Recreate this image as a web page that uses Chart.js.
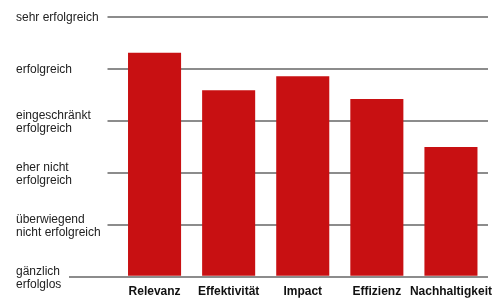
<!DOCTYPE html>
<html>
<head>
<meta charset="utf-8">
<script src="https://cdn.jsdelivr.net/npm/chart.js@4/dist/chart.umd.min.js"></script>
<style>
  html, body { margin: 0; padding: 0; background: #fff; }
  #wrap { width: 502px; height: 298px; }
</style>
</head>
<body>
<div id="wrap"><canvas id="chart" width="502" height="298"></canvas></div>
<script>
// Rating chart data
const categories = ['Relevanz', 'Effektivität', 'Impact', 'Effizienz', 'Nachhaltigkeit'];
const ratings = [4.31, 3.59, 3.86, 3.42, 2.5];
const ratingLabels = [
  ['gänzlich', 'erfolglos'],
  ['überwiegend', 'nicht erfolgreich'],
  ['eher nicht', 'erfolgreich'],
  ['eingeschränkt', 'erfolgreich'],
  'erfolgreich',
  'sehr erfolgreich'
];

const gridColor = '#8c8c8c';

// extend the zero line to the left, under the bottom label
const baseLine = {
  id: 'baseLine',
  beforeDatasetsDraw(chart) {
    const y = chart.scales.y;
    const ctx = chart.ctx;
    const py = Math.round(y.getPixelForValue(0));
    ctx.save();
    ctx.strokeStyle = gridColor;
    ctx.lineWidth = 2;
    ctx.beginPath();
    ctx.moveTo(y.left + 53, py);
    ctx.lineTo(chart.chartArea.left, py);
    ctx.stroke();
    ctx.restore();
  }
};

const ctx = document.getElementById('chart').getContext('2d');
new Chart(ctx, {
  type: 'bar',
  data: {
    labels: categories,
    datasets: [{
      data: ratings,
      backgroundColor: '#c81012',
      borderWidth: 0,
      categoryPercentage: 1,
      barPercentage: 0.716
    }]
  },
  options: {
    responsive: false,
    animation: false,
    layout: { padding: { left: 16, right: 14, top: 17, bottom: 0 } },
    plugins: {
      legend: { display: false },
      tooltip: { enabled: false }
    },
    scales: {
      y: {
        min: 0,
        max: 5,
        afterFit(scale) { scale.width = 101.5; },
        border: { display: false },
        grid: {
          color: gridColor,
          lineWidth: 2,
          tickLength: 10,
          drawTicks: true
        },
        ticks: {
          stepSize: 1,
          crossAlign: 'far',
          padding: 8,
          labelOffset: 1,
          color: '#222',
          font: { family: "'Liberation Sans', Arial, sans-serif", size: 12, lineHeight: 1.1 },
          callback: v => ratingLabels[v]
        }
      },
      x: {
        afterFit(scale) { scale.height = 21; },
        border: { display: false },
        grid: { display: false, drawTicks: false },
        ticks: {
          padding: 8,
          color: '#111',
          maxRotation: 0,
          autoSkip: false,
          font: { family: "'Liberation Sans', Arial, sans-serif", size: 12, weight: 'bold' }
        }
      }
    }
  },
  plugins: [baseLine]
});
</script>
</body>
</html>
